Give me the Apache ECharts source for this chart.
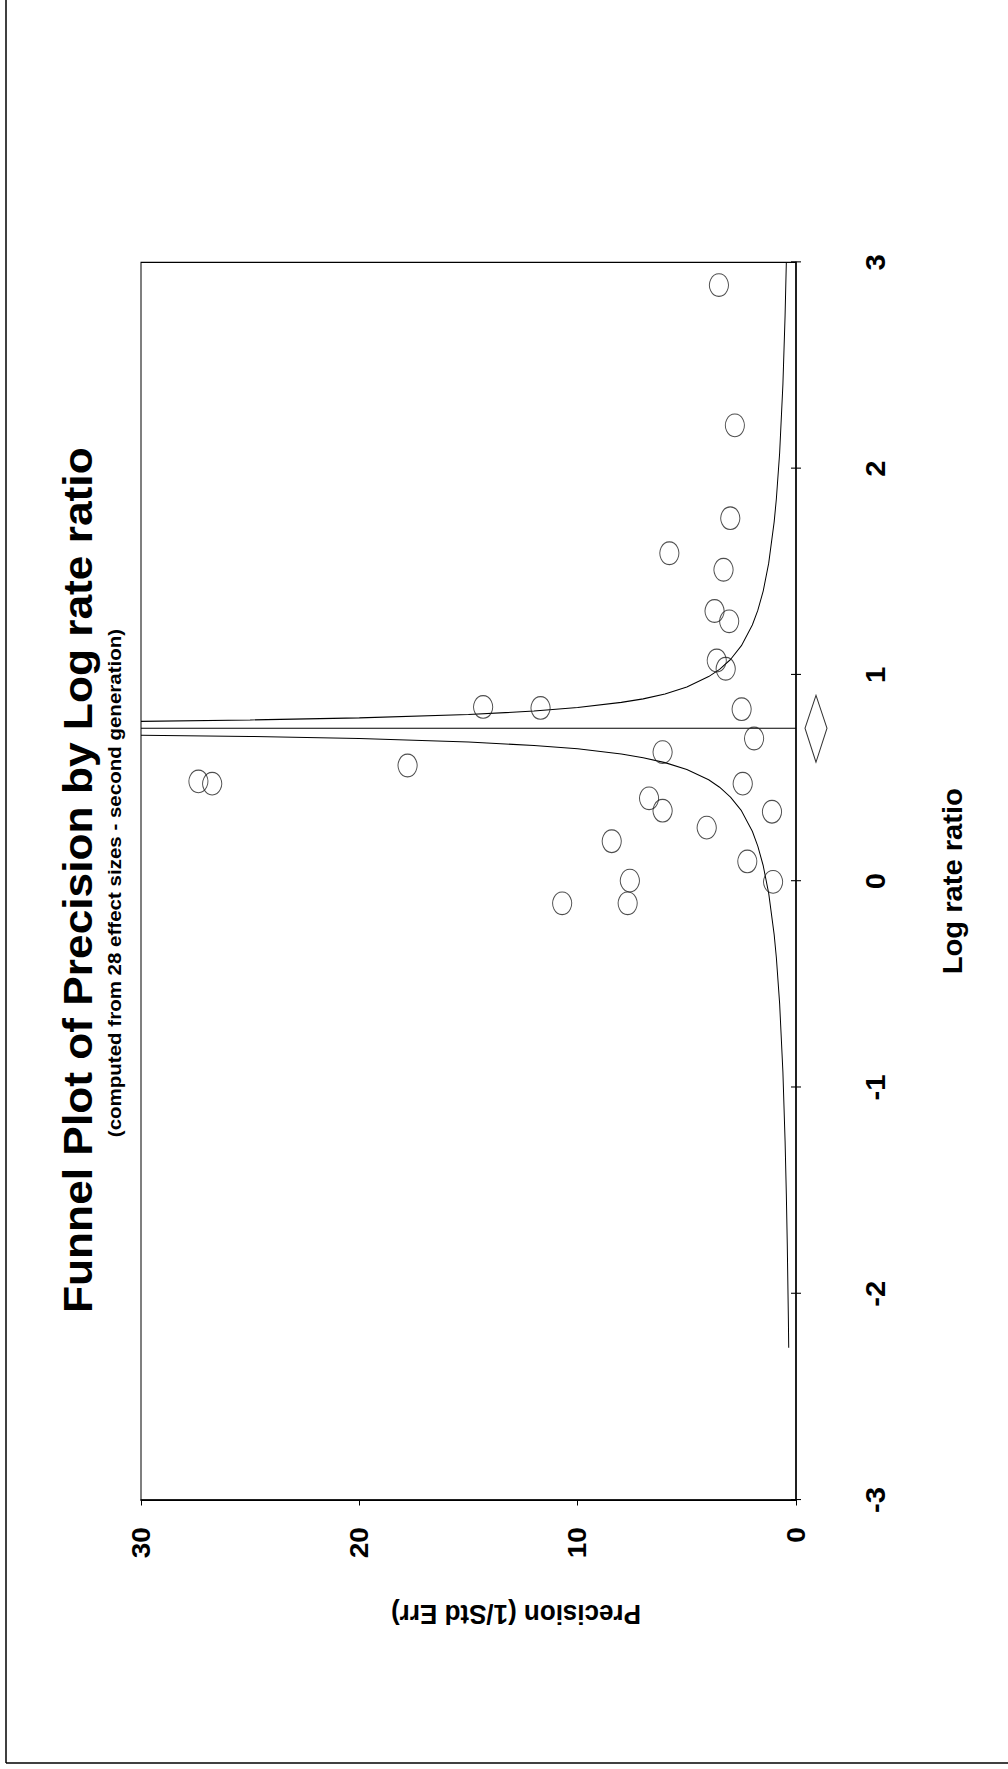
<!DOCTYPE html>
<html>
<head>
<meta charset="utf-8">
<script src="https://cdn.jsdelivr.net/npm/echarts@6/dist/echarts.min.js"></script>
<style>
html,body{margin:0;padding:0;width:1008px;height:1769px;overflow:hidden;background:#fff;}
#chart{position:absolute;left:0;top:0;width:1638px;height:1008px;transform-origin:0 0;transform:translate(0,1769px) rotate(-90deg) scaleX(1.08);}
</style>
</head>
<body>
<div id="chart"></div>
<script>
// ---- data ----
const logRateRatio = [2.89, 2.21, 1.76, 1.59, 1.51, 1.31, 1.26, 1.07, 1.03, 0.845, 0.84, 0.834, 0.692, 0.561,
  0.626, 0.484, 0.473, 0.473, 0.402, 0.342, 0.337, 0.260, 0.194, 0.096, 0.003, -0.003, -0.107, -0.107];
const precision = [3.53, 2.80, 3.01, 5.80, 3.32, 3.73, 3.06, 3.63, 3.22, 14.33, 11.70, 2.49, 1.92, 17.79,
  6.11, 27.37, 26.74, 2.44, 6.73, 6.11, 1.10, 4.09, 8.44, 2.23, 7.61, 1.05, 10.71, 7.71];

// funnel boundary lines
const funnelLowerPrecision = [0.333, 0.35, 0.4, 0.443, 0.5, 0.6, 0.75, 0.9, 1, 1.25, 1.5, 1.75, 2, 2.5, 3, 3.5, 4, 5, 6, 7, 8, 10, 12, 15, 20, 25, 30];
const funnelLowerLR = [-2.262, -2.116, -1.759, -1.516, -1.259, -0.925, -0.592, -0.370, -0.259, -0.059, 0.075, 0.170, 0.242, 0.342, 0.408, 0.456, 0.492, 0.542, 0.575, 0.599, 0.617, 0.642, 0.658, 0.675, 0.692, 0.702, 0.708];
const funnelUpperPrecision = [0.443, 0.5, 0.6, 0.75, 0.9, 1, 1.25, 1.5, 1.75, 2, 2.5, 3, 3.5, 4, 5, 6, 7, 8, 10, 12, 15, 20, 25, 30];
const funnelUpperLR = [3.0, 2.742, 2.408, 2.075, 1.853, 1.742, 1.542, 1.408, 1.313, 1.242, 1.142, 1.075, 1.027, 0.992, 0.942, 0.908, 0.884, 0.867, 0.842, 0.825, 0.808, 0.792, 0.782, 0.775];

// combined (summary) effect
const summaryLR = 0.7415;
const summaryCI = [0.577, 0.901];

// axes
const lrRange = [-3, 3];
const lrInterval = 1;
const precisionRange = [0, 30];
const precisionInterval = 10;

const titleText = 'Funnel Plot of Precision by Log rate ratio';
const subtitleText = '(computed from 28 effect sizes - second generation)';
const xName = 'Log rate ratio';
const yName = 'Precision (1/Std Err)';

const FONT = "'Liberation Sans', Arial, Helvetica, sans-serif";
const W = 1638, H = 1008;

const chart = echarts.init(document.getElementById('chart'), null, {renderer: 'svg', width: W, height: H});

const pts = logRateRatio.map((x, i) => [x, precision[i]]);
const lower = funnelLowerPrecision.map((p, i) => [funnelLowerLR[i], p]);
const upper = funnelUpperPrecision.map((p, i) => [funnelUpperLR[i], p]);

const option = {
  animation: false,
  backgroundColor: '#fff',
  grid: {left: 249, right: 243, top: 141, bottom: 212, show: true, borderColor: '#000', borderWidth: 1, containLabel: false},
  xAxis: [{
    type: 'value', min: lrRange[0], max: lrRange[1], interval: lrInterval, position: 'bottom',
    axisLine: {show: true, onZero: false, lineStyle: {color: '#000', width: 1.5}},
    axisTick: {show: true, inside: false, length: 5, lineStyle: {color: '#000', width: 1}},
    axisLabel: {show: true, margin: 66, fontSize: 27, fontWeight: 'bold', color: '#000', fontFamily: FONT, showMinLabel: true, showMaxLabel: true},
    splitLine: {show: false}
  }, {
    type: 'value', min: lrRange[0], max: lrRange[1], interval: lrInterval, position: 'bottom',
    axisLine: {show: false},
    axisTick: {show: true, inside: true, length: 5, lineStyle: {color: '#000', width: 1}},
    axisLabel: {show: false},
    splitLine: {show: false}
  }],
  yAxis: {
    type: 'value', min: precisionRange[0], max: precisionRange[1], interval: precisionInterval,
    axisLine: {show: true, onZero: false, lineStyle: {color: '#000', width: 1.5}},
    axisTick: {show: true, inside: false, length: 5, lineStyle: {color: '#000', width: 1}},
    axisLabel: {show: true, margin: 25, fontSize: 26, fontWeight: 'bold', color: '#000', fontFamily: FONT, showMinLabel: true, showMaxLabel: true},
    splitLine: {show: false}
  },
  series: [
    {
      type: 'line', data: lower, showSymbol: false, symbol: 'none', silent: true,
      lineStyle: {color: '#000', width: 1}, clip: true, z: 2
    },
    {
      type: 'line', data: upper, showSymbol: false, symbol: 'none', silent: true,
      lineStyle: {color: '#000', width: 1}, clip: true, z: 2
    },
    {
      type: 'line', data: [[summaryLR, precisionRange[0]], [summaryLR, precisionRange[1]]], showSymbol: false, symbol: 'none',
      lineStyle: {color: '#000', width: 1}, z: 2
    },
    {
      type: 'scatter', data: pts, symbol: 'circle', symbolSize: [21, 19],
      itemStyle: {color: 'rgba(0,0,0,0)', borderColor: '#222', borderWidth: 1}, z: 3
    },
    {
      type: 'custom', clip: false, z: 3,
      data: [[summaryLR, summaryCI[0], summaryCI[1]]],
      renderItem: function (params, api) {
        const c = api.coord([api.value(0), precisionRange[0]]);
        const l = api.coord([api.value(1), precisionRange[0]]);
        const h = api.coord([api.value(2), precisionRange[0]]);
        const y0 = c[1];
        return {
          type: 'polygon',
          shape: {points: [[l[0], y0 + 20], [c[0], y0 + 9], [h[0], y0 + 20], [c[0], y0 + 31]]},
          style: {fill: 'none', stroke: '#333', lineWidth: 1}
        };
      }
    }
  ],
  graphic: [
    {type: 'text', x: 823, y: 78, style: {text: titleText, fontSize: 41, fontWeight: 'bold', fontFamily: FONT, fill: '#000', align: 'center', verticalAlign: 'middle'}},
    {type: 'text', x: 585, y: 114, style: {text: subtitleText, fontSize: 19, fontWeight: 'bold', fontFamily: FONT, fill: '#000', align: 'left', verticalAlign: 'middle'}},
    {type: 'text', x: 822, y: 953, style: {text: xName, fontSize: 27, fontWeight: 'bold', fontFamily: FONT, fill: '#000', align: 'center', verticalAlign: 'middle'}},
    {type: 'text', x: 143, y: 516, rotation: Math.PI / 2, style: {text: yName, fontSize: 26, fontWeight: 'bold', fontFamily: FONT, fill: '#000', align: 'center', verticalAlign: 'middle'}},
    {type: 'line', shape: {x1: 5.6, y1: 6, x2: W, y2: 6}, style: {stroke: '#000', lineWidth: 1.5}},
    {type: 'line', shape: {x1: 5.6, y1: 6, x2: 5.6, y2: H}, style: {stroke: '#000', lineWidth: 1.5}}
  ]
};
chart.setOption(option);
</script>
</body>
</html>
